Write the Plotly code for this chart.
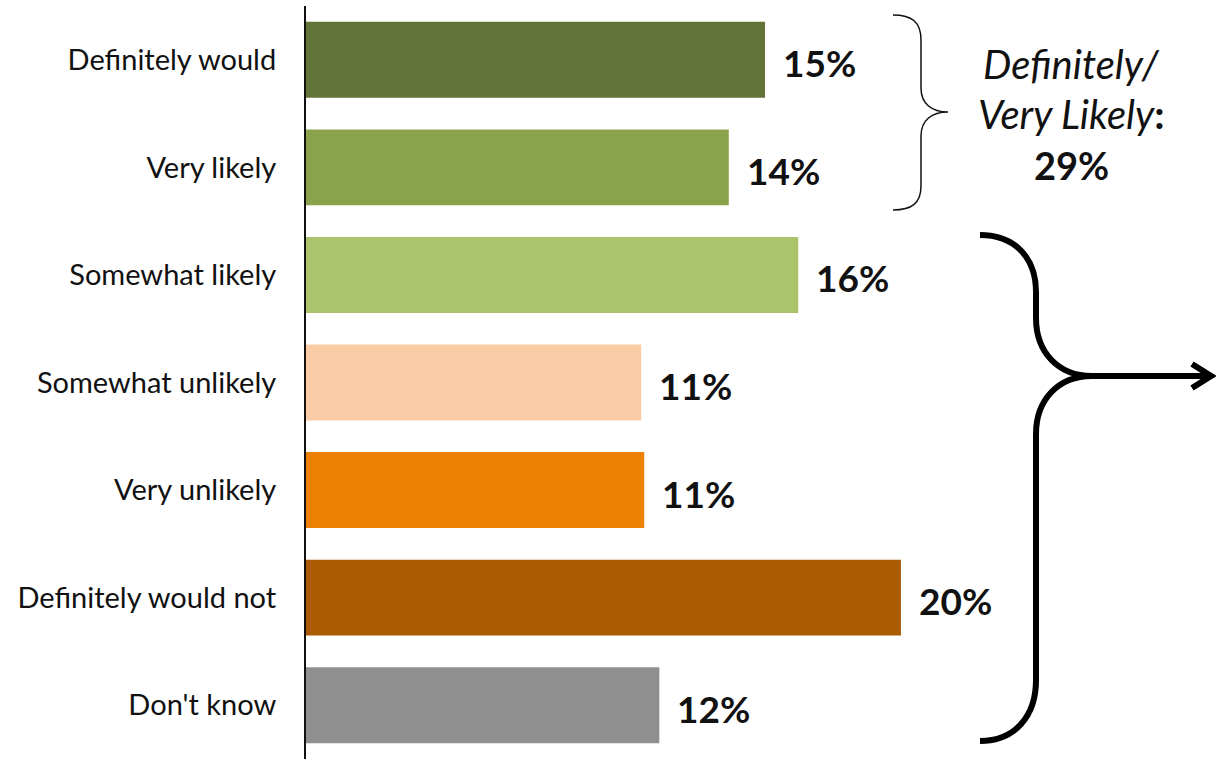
import plotly.graph_objects as go

categories = ["Definitely would", "Very likely", "Somewhat likely", "Somewhat unlikely",
              "Very unlikely", "Definitely would not", "Don't know"]
values = [15.2, 14.0, 16.3, 11.1, 11.2, 19.7, 11.7]
labels = ["15%", "14%", "16%", "11%", "11%", "20%", "12%"]
colors = ["#637438", "#8BA24D", "#ABC46B", "#FACBA4", "#ED8106", "#AB5B02", "#8F8F8F"]

W, H = 1216, 759
ML, MR, MT, MB = 306, 0, 6, 0
PW, PH = W - ML - MR, H - MT - MB
FONT = "Lato"


def px(x):
    return (x - ML) / PW


def py(y):
    return (H - MB - y) / PH


def path(cmds):
    out = []
    for c in cmds:
        if isinstance(c, str):
            out.append(c)
        else:
            out.append(f"{px(c[0]):.5f},{py(c[1]):.5f}")
    return " ".join(out)


fig = go.Figure(go.Bar(
    x=values, y=categories, orientation="h",
    marker=dict(color=colors, line=dict(width=0)),
    hoverinfo="skip",
))

for v, c, lab in zip(values, categories, labels):
    fig.add_annotation(x=v, y=c, text=f"<b>{lab}</b>", showarrow=False,
                       xanchor="left", xshift=16, yshift=-3,
                       font=dict(family=FONT, size=37, color="#111111"))

# Small brace
small = path(["M", (893, 15), "C", (912, 15), (921, 22), (921, 40), "L", (921, 88),
              "C", (921, 104), (932, 112), (948, 112),
              "C", (932, 112), (921, 120), (921, 136), "L", (921, 186),
              "C", (921, 203), (912, 210), (893, 210)])
fig.add_shape(type="path", path=small, xref="paper", yref="paper",
              line=dict(color="#111111", width=1.5))

# Large brace with arrow
big = path(["M", (980, 235), "C", (1015, 235), (1036, 258), (1036, 292), "L", (1036, 318),
            "C", (1036, 352), (1058, 376), (1092, 376),
            "C", (1058, 376), (1036, 400), (1036, 434), "L", (1036, 680),
            "C", (1036, 716), (1015, 741), (980, 741)])
fig.add_shape(type="path", path=big, xref="paper", yref="paper",
              line=dict(color="#000000", width=6))
arrow = path(["M", (1090, 376), "L", (1211, 376)])
fig.add_shape(type="path", path=arrow, xref="paper", yref="paper",
              line=dict(color="#000000", width=6))
head = path(["M", (1192, 364), "L", (1211, 376), "L", (1192, 388)])
fig.add_shape(type="path", path=head, xref="paper", yref="paper",
              line=dict(color="#000000", width=6))

# Side text
for txt, yy, sz in [("<i>Definitely/</i>", 64, 40), ("<i>Very Likely</i><b>:</b>", 114, 40),
                    ("<b>29%</b>", 165, 38)]:
    fig.add_annotation(x=px(1071), y=py(yy), xref="paper", yref="paper", text=txt,
                       showarrow=False, xanchor="center", yanchor="middle",
                       font=dict(family=FONT, size=sz, color="#111111"))

fig.update_layout(
    width=W, height=H,
    margin=dict(l=ML, r=MR, t=MT, b=MB, pad=0),
    plot_bgcolor="white", paper_bgcolor="white",
    bargap=0.294, showlegend=False,
    font=dict(family=FONT, color="#111111"),
)
fig.update_xaxes(range=[0, PW / 30.2], visible=False, fixedrange=True)
fig.update_yaxes(autorange=False, range=[6.5, -0.5], showline=True, linecolor="#111111",
                 linewidth=2, ticks="", ticklabelstandoff=22, showgrid=False, zeroline=False,
                 tickfont=dict(family=FONT, size=29, color="#111111"), fixedrange=True)

fig.write_html("out.html", config={"displayModeBar": False},
               post_script="document.body.style.margin='0';")
